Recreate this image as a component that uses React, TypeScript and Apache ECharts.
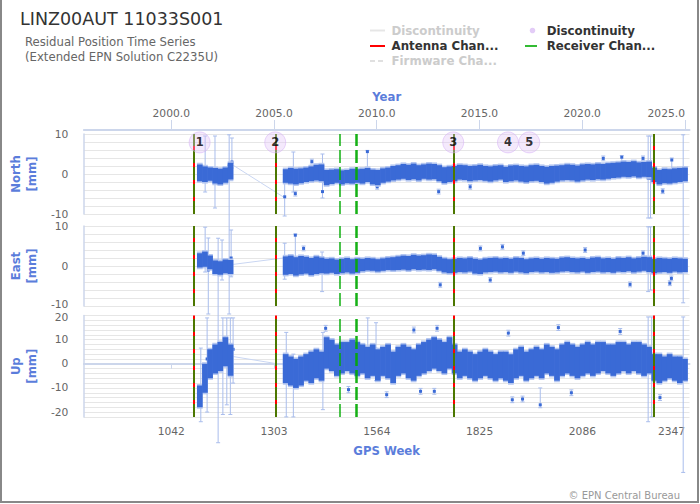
import { useEffect, useRef } from 'react';
import * as echarts from 'echarts';

// ---------- axis ranges & ticks ----------
const WEEK_MIN = 820;
const WEEK_MAX = 2358;
const WEEKS_PER_YEAR = 52.1775;
const weekTicks = [1042, 1303, 1564, 1825, 2086, 2347];
const yearTicks = [2000, 2005, 2010, 2015, 2020, 2025];

// ---------- residual clouds (13-week bins: lower / upper edge of dense cloud, mm) ----------
const BIN = 13;
const binWeeks = [
  1108, 1121, 1134, 1147, 1160, 1173, 1186,
  1326, 1339, 1352, 1365, 1378, 1391, 1404, 1417, 1430, 1443, 1456, 1469, 1482, 1495, 1508,
  1521, 1534, 1547, 1560, 1573, 1586, 1599, 1612, 1625, 1638, 1651, 1664, 1677, 1690, 1703,
  1716, 1729, 1742, 1755, 1768, 1781, 1794, 1807, 1820, 1833, 1846, 1859, 1872, 1885, 1898,
  1911, 1924, 1937, 1950, 1963, 1976, 1989, 2002, 2015, 2028, 2041, 2054, 2067, 2080, 2093,
  2106, 2119, 2132, 2145, 2158, 2171, 2184, 2197, 2210, 2223, 2236, 2249, 2262, 2275, 2288,
  2301, 2314, 2327, 2340,
];
const northLo = [
  -1.8, -2.0, -1.7, -2.4, -2.6, -2.2, -1.4,
  -2.2, -2.4, -2.6, -2.3, -2.0, -1.8, -1.6, -1.8,
  -2.8, -2.5, -2.2, -2.6, -2.3, -2.4, -2.2,
  -2.4, -2.0, -2.6, -2.8, -2.2, -1.9, -1.6,
  -1.4, -1.2, -1.5, -1.3, -1.6, -1.2, -1.4, -1.3, -1.8,
  -2.3, -2.0, -1.8,
  -1.4, -1.5, -1.8, -1.6, -1.5, -1.7, -1.9, -1.6, -1.4,
  -2.0, -1.8, -1.6, -1.9, -2.1, -1.8, -1.7, -2.0,
  -2.4, -2.2, -1.9, -1.6,
  -1.5, -1.6, -1.9, -1.6, -1.4, -1.5, -1.3, -1.4, -1.2, -1.0,
  -0.9, -0.7, -0.8, -0.6, -0.9, -0.7, -0.8,
  -2.0, -2.6, -2.3, -2.4, -2.2, -2.0, -1.8,
];
const northHi = [
  2.4, 1.9, 1.6, 1.5, 1.3, 1.6, 2.8,
  1.2, 1.5, 1.3, 1.4, 1.6, 1.9, 2.3, 2.4,
  1.0, 1.1, 1.2, 0.9, 1.0, 1.3, 1.2,
  1.3, 1.5, 1.1, 1.0, 1.4, 1.6, 2.0,
  2.2, 2.5, 2.3, 2.6, 2.2, 2.4, 2.6, 2.5, 2.2,
  1.7, 1.9, 2.0,
  2.3, 2.2, 2.0, 2.1, 2.3, 2.0, 1.9, 2.1, 2.2,
  1.8, 2.1, 2.2, 2.0, 1.9, 2.2, 2.3, 2.0,
  1.8, 2.0, 2.1, 2.2,
  2.4, 2.3, 2.1, 2.4, 2.5, 2.4, 2.6, 2.5, 2.7, 2.8,
  2.9, 3.1, 3.0, 3.2, 2.9, 3.0, 3.1,
  1.6, 1.0, 1.3, 1.2, 1.4, 1.5, 1.6,
];
const eastLo = [
  -0.4, -0.2, -0.8, -2.0, -2.2, -1.8, -2.0,
  -2.2, -2.0, -2.4, -2.1, -1.9, -2.3, -2.0, -1.8,
  -1.9, -1.7, -2.0, -1.8, -1.6, -1.9, -1.7,
  -1.3, -1.1, -1.2, -1.4, -1.2, -1.0, -1.1,
  -1.0, -0.9, -1.1, -0.8, -1.0, -0.9, -1.0, -0.8, -1.2,
  -1.6, -1.8, -1.7,
  -1.5, -1.6, -1.4, -1.9, -2.0, -1.6, -1.5, -1.4, -1.6,
  -1.5, -1.7, -1.4, -1.6, -1.8, -1.5, -1.4, -1.6,
  -1.5, -1.7, -1.6, -1.4,
  -1.3, -1.5, -1.6, -1.4, -1.7, -1.5, -1.4, -1.6, -1.5, -1.7,
  -1.4, -1.5, -1.3, -1.6, -1.4, -1.2, -1.5,
  -1.8, -1.6, -1.5, -1.7, -1.4, -1.6, -1.5,
];
const eastHi = [
  3.2, 3.6, 2.6, 1.4, 1.2, 1.6, 1.5,
  2.4, 2.6, 2.2, 2.5, 2.3, 2.0, 2.4, 2.1,
  1.8, 1.9, 1.6, 1.8, 2.0, 1.7, 1.9,
  1.8, 2.0, 1.9, 1.7, 1.9, 2.1, 2.2,
  2.4, 2.6, 2.5, 2.8, 2.6, 2.7, 2.9, 2.8, 2.3,
  1.9, 1.7, 1.8,
  2.0, 1.9, 2.1, 1.8, 1.6, 1.9, 2.0, 2.1, 1.9,
  2.0, 1.8, 2.1, 2.0, 1.7, 1.9, 2.0, 1.8,
  2.0, 1.9, 1.8, 2.1,
  2.2, 2.0, 1.9, 2.0, 1.8, 2.1, 2.2, 1.9, 2.0, 1.8,
  2.1, 2.0, 2.2, 1.9, 2.1, 2.3, 2.2,
  1.8, 2.0, 1.9, 1.8, 2.0, 1.9, 1.8,
];
const upLo = [
  -18, -12, -6, -4, -3, -1, -5,
  -8, -9, -10, -9, -7, -8, -6, -7,
  -2, -3, -5, -4, -3, -4, -5,
  -4, -6, -5, -7, -5, -6, -8,
  -5, -4, -6, -7, -5, -4, -3, -2, -3,
  -4, -2, -4,
  -6, -5, -6, -7, -6, -5, -6, -7, -6,
  -7, -8, -6, -5, -7, -6, -5, -6,
  -4, -5, -7, -5,
  -4, -5, -6, -5, -4, -5, -4, -3, -4, -5,
  -4, -3, -4, -3, -4, -5, -4,
  -7, -8, -7, -6, -7, -8, -7,
];
const upHi = [
  -9, 0, 6, 8, 9, 11, 8,
  4, 3, 2, 3, 4, 5, 6, 5,
  11, 10, 8, 9, 9, 10, 9,
  8, 7, 8, 6, 7, 8, 5,
  7, 8, 7, 6, 8, 9, 10, 11, 10,
  9, 11, 8,
  5, 6, 5, 4, 5, 6, 5, 4, 5,
  5, 4, 6, 7, 5, 6, 7, 6,
  8, 7, 6, 8,
  9, 8, 7, 8, 9, 8, 9, 9, 8, 8,
  9, 9, 8, 9, 9, 8, 7,
  4, 4, 3, 4, 3, 3, 2,
];

// ---------- individual points with error bars: [week, value, lower, upper] ----------
const northOut = [
  [1128, 1.0, -4.5, 9.5], [1153, -1.0, -8.5, 9.5], [1189, 2.0, -35, 9.8], [1196, 3.0, 1.5, 9.0],
  [1330, -5.7, -10.5, -2.0], [1352, 1.0, -4.5, 5.5], [1357, -4.9, -5.5, -4.3], [1399, 3.1, 2.5, 3.7],
  [1426, -4.4, -6.0, 5.0], [1540, 5.6, 0.5, 5.9], [1565, -3.2, -3.8, -2.6], [1721, -4.4, -5.0, -3.8],
  [1801, -3.2, -3.8, -2.6], [2139, 3.9, 3.3, 4.5], [2186, 4.2, 1.5, 4.6], [2240, 3.9, 3.3, 4.5],
  [2253, -1.0, -11.0, 9.5], [2259, -1.0, -11.0, 9.5], [2290, -4.3, -4.9, -3.7], [2313, 3.5, -2.0, 4.0],
  [2342, 0.0, -32.2, 9.8],
];
const eastOut = [
  [1128, 0.0, -1.5, 9.7], [1136, -1.0, -12.0, 7.0], [1171, 1.0, -3.5, 6.5], [1194, 2.0, -2.7, 9.0],
  [1330, 2.0, -3.3, 5.7], [1357, 7.7, -0.5, 8.0], [1378, 4.4, 3.8, 5.0], [1425, 1.0, -6.4, 3.5],
  [1725, -4.7, -5.3, -4.1], [1827, 4.4, 3.8, 5.0], [1852, -3.5, -4.1, -2.9], [1883, 4.8, 4.2, 5.4],
  [1936, 3.2, 2.6, 3.8], [2093, 4.0, 3.4, 4.6], [2207, -4.6, -5.2, -4.0], [2240, 3.2, 2.6, 3.8],
  [2253, 1.0, -6.4, 9.8], [2259, 0.0, -6.0, 9.8], [2308, -4.3, -4.9, -3.7], [2312, -3.1, -3.7, -2.5],
];
const upOut = [
  [1117, -12, -24, 6.5], [1133, 2, -20, 19], [1161, 2, -32.7, 52], [1173, 5, -21, 19],
  [1183, 8, -17, 19], [1192, 3, -21, 19], [1199, 6, -8, 19], [1334, -3, -22, 13],
  [1352, -5, -22, 4], [1427, 0, -19, 13], [1434, 14.7, 13.5, 15.9], [1492, -10.7, -12, -9.4],
  [1541, 5, -3, 19], [1562, 6, -7, 17], [1589, -12.8, -14, -11.6], [1658, 14, 12.8, 15.2],
  [1675, -11.4, -12.6, -10.2], [1710, -11.4, -12.6, -10.2], [1717, 14.7, 13.5, 15.9],
  [1898, 12.7, 11.5, 13.9], [1908, -14.9, -16.1, -13.7], [1934, -14.6, -15.8, -13.4],
  [1979, -17, -18.2, -10], [2025, 15, 13.8, 16.2], [2058, -12, -13.2, -10.8],
  [2182, 13.4, 12.2, 14.6], [2253, 0, -24, 19.4], [2262, 1, -22, 19.4], [2283, -14, -15.2, -12.8],
  [2342, -2, -45, 19.4],
];

// ---------- thin line across the data gap: [week, value] ----------
const gapNorth = [[1199, 2.2], [1326, -5.7]];
const gapEast = [[1199, 0.4], [1326, 2.0]];
const gapUp = [[1199, 3.0], [1326, -0.4]];

// ---------- events ----------
const antennaWeeks = [1100, 1307, 1760, 2267];
const receiverWeeks = [1100, 1307, 1470, 1511, 1513, 1760, 2267];
const discWeeks = [1114, 1306, 1758, 1897, 1951];
const discLabels = ['1', '2', '3', '4', '5'];
const DISC_Y = 7.9;

const FONT = 'DejaVu Sans';
const AXIS_COLOR = '#ccd6eb';
const NAME_COLOR = '#5b7ddb';
const DOT = '#3a6ad6';
const HALO = '#b4c6f0';
const ERR = '#a9bdec';
const LABEL_SIZE = 10.7;

const haloRender = (_p: any, api: any) => {
  const w = api.value(0);
  const a = api.coord([w, api.value(2)]);
  const b = api.coord([w + BIN, api.value(1)]);
  return {
    type: 'rect',
    shape: { x: a[0] - 0.3, y: a[1] - 1.6, width: b[0] - a[0] + 0.6, height: b[1] - a[1] + 3.2 },
    style: { fill: HALO },
  };
};

const bandRender = (_p: any, api: any) => {
  const w = api.value(0);
  const a = api.coord([w, api.value(2)]);
  const b = api.coord([w + BIN, api.value(1)]);
  return {
    type: 'rect',
    shape: { x: a[0] - 0.3, y: a[1], width: b[0] - a[0] + 0.6, height: b[1] - a[1] },
    style: { fill: DOT },
  };
};

const errRender = (_p: any, api: any) => {
  const w = api.value(0);
  const p = api.coord([w, api.value(1)]);
  const lo = api.coord([w, api.value(2)]);
  const hi = api.coord([w, api.value(3)]);
  const s = { stroke: ERR, lineWidth: 1 };
  return {
    type: 'group',
    children: [
      { type: 'line', shape: { x1: p[0], y1: lo[1], x2: p[0], y2: hi[1] }, style: s },
      { type: 'line', shape: { x1: p[0] - 2, y1: lo[1], x2: p[0] + 2, y2: lo[1] }, style: s },
      { type: 'line', shape: { x1: p[0] - 2, y1: hi[1], x2: p[0] + 2, y2: hi[1] }, style: s },
      { type: 'rect', shape: { x: p[0] - 1.5, y: p[1] - 1.5, width: 3, height: 3 }, style: { fill: DOT } },
    ],
  };
};

function panelSeries(g: number, lo: number[], hi: number[], out: number[][], gap: number[][]) {
  const bins = binWeeks.map((w, i) => [w, lo[i], hi[i]]);
  return [
    {
      type: 'line', xAxisIndex: g, yAxisIndex: g, data: gap, showSymbol: false, silent: true,
      lineStyle: { color: '#c9d6f2', width: 1 }, z: 1,
    },
    {
      type: 'custom', xAxisIndex: g, yAxisIndex: g, clip: false, silent: true, z: 2,
      renderItem: errRender, data: out,
    },
    {
      type: 'custom', xAxisIndex: g, yAxisIndex: g, clip: false, silent: true, z: 3,
      renderItem: haloRender, data: bins,
    },
    {
      type: 'custom', xAxisIndex: g, yAxisIndex: g, clip: false, silent: true, z: 3,
      renderItem: bandRender, data: bins,
    },
    {
      type: 'line', xAxisIndex: g, yAxisIndex: g, data: [], silent: true, z: 4,
      markLine: {
        silent: true, symbol: 'none', label: { show: false },
        lineStyle: { color: '#ff0000', width: 2, type: 'solid' },
        data: antennaWeeks.map((w) => ({ xAxis: w })),
      },
    },
    {
      type: 'line', xAxisIndex: g, yAxisIndex: g, data: [], silent: true, z: 5,
      markLine: {
        silent: true, symbol: 'none', label: { show: false },
        lineStyle: { color: 'rgba(0,170,0,0.7)', width: 2, type: [13, 4] },
        data: receiverWeeks.map((w) => ({ xAxis: w })),
      },
    },
  ];
}

const hiddenWeekAxis = (g: number) => ({
  type: 'value', gridIndex: g, min: WEEK_MIN, max: WEEK_MAX, show: false,
});

// nudgeMin / nudgeMax move the end labels slightly away from the neighbouring panel's labels
const yAxisFor = (g: number, min: number, max: number, name: string, nudgeMin: boolean, nudgeMax: boolean) => ({
  type: 'value', gridIndex: g, min, max, interval: 2,
  axisLine: { show: true, lineStyle: { color: AXIS_COLOR, width: 1.5 } },
  axisTick: { show: false },
  axisLabel: {
    color: '#666', fontSize: LABEL_SIZE, fontFamily: FONT, margin: 15.5,
    formatter: (v: number) => {
      if (Math.abs(v % 10) > 1e-9) return '';
      if (nudgeMin && v === min) return `{up|${v}}`;
      if (nudgeMax && v === max) return `{down|${v}}`;
      return String(v);
    },
    rich: {
      up: { color: '#666', fontSize: LABEL_SIZE, fontFamily: FONT, padding: [0, 0, 3, 0] },
      down: { color: '#666', fontSize: LABEL_SIZE, fontFamily: FONT, padding: [3, 0, 0, 0] },
    },
  },
  splitLine: { show: true, lineStyle: { color: '#e6e6e6', width: 1 } },
  name, nameLocation: 'middle', nameRotate: 90, nameGap: 35,
  nameTextStyle: { color: NAME_COLOR, fontWeight: 'bold', fontSize: 11.7, fontFamily: FONT, lineHeight: 16 },
});

export default function App() {
  const ref = useRef<HTMLDivElement>(null);
  useEffect(() => {
    document.body.style.margin = '0';
    if (!ref.current) return;
    const chart = echarts.init(ref.current, undefined, { renderer: 'svg' });
    const gridLeft = 83;
    const gridWidth = 606.5;
    const legendRow = [30.5, 46, 61];
    const c1 = 370;
    const c2 = 523;
    const option: any = {
      animation: false,
      textStyle: { fontFamily: FONT },
      grid: [
        { left: gridLeft, top: 134, width: gridWidth, height: 80 },
        { left: gridLeft, top: 226, width: gridWidth, height: 80 },
        { left: gridLeft, top: 315.5, width: gridWidth, height: 101.4 },
      ],
      xAxis: [
        hiddenWeekAxis(0),
        hiddenWeekAxis(1),
        {
          type: 'value', gridIndex: 2, min: WEEK_MIN, max: WEEK_MAX,
          axisLine: { show: true, lineStyle: { color: AXIS_COLOR, width: 2 } },
          axisTick: { show: true, length: 5, customValues: weekTicks, lineStyle: { color: AXIS_COLOR } },
          axisLabel: {
            customValues: weekTicks, color: '#666', fontSize: LABEL_SIZE, fontFamily: FONT, margin: 9,
            alignMaxLabel: 'right', formatter: (v: number) => String(v),
          },
          splitLine: { show: false },
          name: 'GPS Week', nameLocation: 'middle', nameGap: 28,
          nameTextStyle: { color: NAME_COLOR, fontWeight: 'bold', fontSize: 11.7, fontFamily: FONT },
        },
        {
          type: 'value', gridIndex: 0, position: 'top', offset: 4,
          min: 2000 + (WEEK_MIN - 1042) / WEEKS_PER_YEAR,
          max: 2000 + (WEEK_MAX - 1042) / WEEKS_PER_YEAR,
          axisLine: { show: true, lineStyle: { color: AXIS_COLOR, width: 2 } },
          axisTick: { show: true, length: 10, customValues: yearTicks, lineStyle: { color: AXIS_COLOR } },
          axisLabel: {
            customValues: yearTicks, color: '#666', fontSize: LABEL_SIZE, fontFamily: FONT, margin: 11,
            formatter: (v: number) => v.toFixed(1), alignMaxLabel: 'right',
          },
          splitLine: { show: false },
          name: 'Year', nameLocation: 'middle', nameGap: 27,
          nameTextStyle: { color: NAME_COLOR, fontWeight: 'bold', fontSize: 11.7, fontFamily: FONT },
        },
      ],
      yAxis: [
        yAxisFor(0, -10, 10, 'North\n[mm]', false, false),
        yAxisFor(1, -10, 10, 'East\n[mm]', true, false),
        yAxisFor(2, -22, 20, 'Up\n[mm]', false, true),
      ],
      series: [
        ...panelSeries(0, northLo, northHi, northOut, gapNorth),
        ...panelSeries(1, eastLo, eastHi, eastOut, gapEast),
        ...panelSeries(2, upLo, upHi, upOut, gapUp),
        {
          type: 'scatter', xAxisIndex: 0, yAxisIndex: 0, silent: true, z: 6,
          symbol: 'circle', symbolSize: 21,
          itemStyle: { color: 'rgba(225,195,248,0.45)', borderColor: 'rgba(210,170,245,0.6)', borderWidth: 1 },
          label: {
            show: true, position: 'inside', color: '#000', fontWeight: 'bold', fontSize: 11.5, fontFamily: FONT,
            formatter: (p: any) => discLabels[p.dataIndex],
          },
          data: discWeeks.map((w) => [w, DISC_Y]),
        },
      ],
      graphic: [
        { type: 'rect', silent: true, shape: { x: 1, y: -10, width: 697, height: 512 }, style: { fill: 'none', stroke: '#888', lineWidth: 2 } },
        { type: 'text', silent: true, x: 20, y: 18.5, style: { text: 'LINZ00AUT 11033S001', font: `normal 17.5px "${FONT}"`, fill: '#333', verticalAlign: 'middle' } },
        { type: 'text', silent: true, x: 25, y: 42, style: { text: 'Residual Position Time Series', font: `normal 11.7px "${FONT}"`, fill: '#666', verticalAlign: 'middle' } },
        { type: 'text', silent: true, x: 25, y: 56.5, style: { text: '(Extended EPN Solution C2235U)', font: `normal 11.7px "${FONT}"`, fill: '#666', verticalAlign: 'middle' } },
        // legend column 1
        { type: 'line', silent: true, shape: { x1: c1, y1: legendRow[0], x2: c1 + 15, y2: legendRow[0] }, style: { stroke: '#e6e6e6', lineWidth: 2 } },
        { type: 'text', silent: true, x: c1 + 21.5, y: legendRow[0], style: { text: 'Discontinuity', font: `bold 11.8px "${FONT}"`, fill: '#cccccc', verticalAlign: 'middle' } },
        { type: 'line', silent: true, shape: { x1: c1, y1: legendRow[1], x2: c1 + 15, y2: legendRow[1] }, style: { stroke: '#ff0000', lineWidth: 2 } },
        { type: 'text', silent: true, x: c1 + 21.5, y: legendRow[1], style: { text: 'Antenna Chan...', font: `bold 11.8px "${FONT}"`, fill: '#333333', verticalAlign: 'middle' } },
        { type: 'line', silent: true, shape: { x1: c1, y1: legendRow[2], x2: c1 + 15, y2: legendRow[2] }, style: { stroke: '#e0e0e0', lineWidth: 2, lineDash: [5, 3] } },
        { type: 'text', silent: true, x: c1 + 21.5, y: legendRow[2], style: { text: 'Firmware Cha...', font: `bold 11.8px "${FONT}"`, fill: '#cccccc', verticalAlign: 'middle' } },
        // legend column 2
        { type: 'circle', silent: true, shape: { cx: c2 + 9.5, cy: legendRow[0], r: 2.8 }, style: { fill: '#e3ccf7' } },
        { type: 'text', silent: true, x: c2 + 23.7, y: legendRow[0], style: { text: 'Discontinuity', font: `bold 11.8px "${FONT}"`, fill: '#333333', verticalAlign: 'middle' } },
        { type: 'line', silent: true, shape: { x1: c2 + 2, y1: legendRow[1], x2: c2 + 14, y2: legendRow[1] }, style: { stroke: '#33bb33', lineWidth: 2 } },
        { type: 'text', silent: true, x: c2 + 23.7, y: legendRow[1], style: { text: 'Receiver Chan...', font: `bold 11.8px "${FONT}"`, fill: '#333333', verticalAlign: 'middle' } },
        // credits
        { type: 'text', silent: true, x: 680, y: 495.5, style: { text: '© EPN Central Bureau', font: `normal 10px "${FONT}"`, fill: '#999999', align: 'right', verticalAlign: 'middle' } },
      ],
    };
    chart.setOption(option);
    return () => chart.dispose();
  }, []);
  return <div ref={ref} style={{ width: 700, height: 504 }} />;
}
